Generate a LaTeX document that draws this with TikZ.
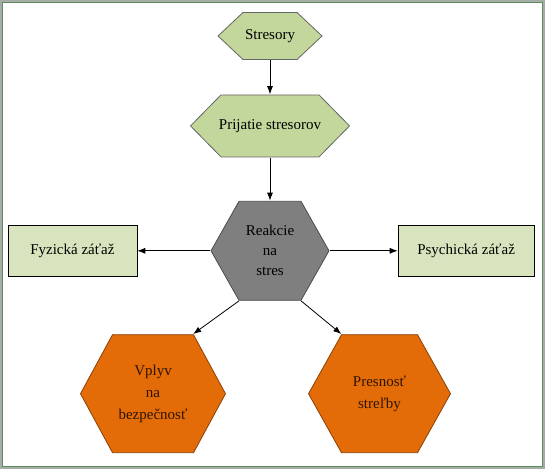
\documentclass[tikz,border=0pt]{standalone}
\usepackage{fontspec}
\setmainfont{Liberation Serif}
\usepackage{xcolor}
\usetikzlibrary{arrows.meta,positioning}

\definecolor{hexgreen}{HTML}{C3D69B}
\definecolor{boxgreen}{HTML}{D7E4BD}
\definecolor{hexgray}{HTML}{7F7F7F}
\definecolor{hexorange}{HTML}{E36C09}
\definecolor{orangeedge}{HTML}{8A4006}
\definecolor{orangetext}{HTML}{2E1400}
\definecolor{framegray}{HTML}{A6ADA6}
\definecolor{framegreen}{HTML}{5E8C5E}

\begin{document}
\begin{tikzpicture}[
  node distance=34pt,
  every node/.style={font=\fontsize{15}{20}\selectfont},
  hexa/.style n args={3}{rectangle,inner sep=0pt,align=center,
    path picture={
      \filldraw[fill=#2,draw=#3,line width=.8pt]
        ([xshift=.5pt]path picture bounding box.west)
        -- ([xshift=#1,yshift=-.5pt]path picture bounding box.north west)
        -- ([xshift=-#1,yshift=-.5pt]path picture bounding box.north east)
        -- ([xshift=-.5pt]path picture bounding box.east)
        -- ([xshift=-#1,yshift=.5pt]path picture bounding box.south east)
        -- ([xshift=#1,yshift=.5pt]path picture bounding box.south west)
        -- cycle;
    }},
  greenhex/.style={hexa={#1}{hexgreen}{black!60}},
  grayhex/.style={hexa={#1}{hexgray}{black!70}},
  orangehex/.style={hexa={#1}{hexorange}{orangeedge},text=orangetext,
    font=\fontsize{15}{22}\selectfont},
  box/.style={draw,line width=.8pt,fill=boxgreen,align=center,inner sep=0pt},
  flow/.style={-{Latex[length=8pt,width=6pt]},line width=.8pt}
]
\useasboundingbox (0,0) rectangle (545pt,-469pt);
% frame
\fill[framegray] (0,0) rectangle (545pt,-469pt);
\fill[white] (3pt,-3pt) rectangle (542pt,-465.5pt);
\draw[framegreen,line width=1pt] (2.5pt,-2.5pt) rectangle (542.5pt,-466pt);

\node[greenhex=25.5pt,minimum width=105pt,minimum height=48pt]
  (stresory) at (270pt,-36pt) {Stresory};
\node[greenhex=31pt,minimum width=160pt,minimum height=63pt,
  below=34pt of stresory] (prijatie) {Prijatie stresorov};
\node[grayhex=28.5pt,minimum width=119pt,minimum height=100pt,
  below=43pt of prijatie] (reakcie) {Reakcie\\na\\stres};
\node[box,minimum width=129pt,minimum height=51pt,left=73pt of reakcie]
  (fyzicka) {Fyzická záťaž};
\node[box,minimum width=136pt,minimum height=51pt,right=68pt of reakcie]
  (psychicka) {Psychická záťaž};
\node[orangehex=32.5pt,minimum width=146pt,minimum height=119pt,
  below=33pt of reakcie,xshift=-117pt] (vplyv) {Vplyv\\na\\bezpečnosť};
\node[orangehex=33.5pt,minimum width=143pt,minimum height=119pt,
  below=33pt of reakcie,xshift=109.5pt] (presnost) {Presnosť\\streľby};

\draw[flow] (stresory) -- (prijatie);
\draw[flow] (prijatie) -- (reakcie);
\draw[flow] (reakcie) -- (fyzicka);
\draw[flow] (reakcie) -- (psychicka);
\draw[flow] ([xshift=28.5pt]reakcie.south west) -- ([xshift=-33pt]vplyv.north east);
\draw[flow] ([xshift=-28.5pt]reakcie.south east) -- ([xshift=33.5pt]presnost.north west);
\end{tikzpicture}
\end{document}
